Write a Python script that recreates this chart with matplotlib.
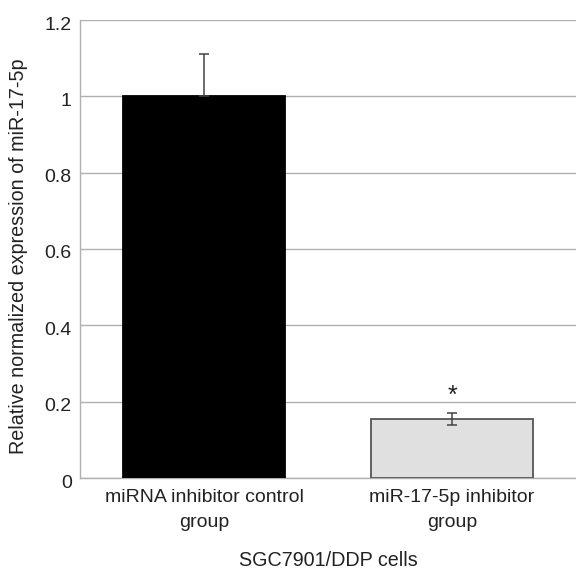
import matplotlib.pyplot as plt
from matplotlib.transforms import ScaledTranslation

plt.rcParams["font.family"] = ["Liberation Sans", "DejaVu Sans"]

groups = ["miRNA inhibitor control\ngroup", "miR-17-5p inhibitor\ngroup"]
values = [1.0, 0.155]
err_low = [0.0, 0.015]
err_high = [0.11, 0.015]
colors = ["#000000", "#e0e0e0"]
yticks = [0, 0.2, 0.4, 0.6, 0.8, 1.0, 1.2]
ytick_labels = ["0", "0.2", "0.4", "0.6", "0.8", "1", "1.2"]

TEXT = "#222222"
GRID = "#b0b0b0"


def main():
    fig = plt.figure(figsize=(5.76, 5.71), dpi=100)
    ax = fig.add_axes([80 / 576, 1 - 478 / 571, 1 - 80 / 576, 458 / 571])

    xs = range(len(values))
    ax.bar(xs, values, width=0.65, color=colors, edgecolor=["#000000", "#555555"],
           linewidth=1.3, zorder=3)
    ax.errorbar(xs, values, yerr=[err_low, err_high], fmt="none", ecolor="#444444",
                elinewidth=1.1, capsize=3.6, capthick=1.1, zorder=4)
    ax.text(1, 0.196, "*", ha="center", va="baseline", fontsize=18, color=TEXT)

    ax.set_xlim(-0.5, 1.5)
    ax.set_ylim(0, 1.2)
    ax.set_yticks(yticks)
    ax.set_yticklabels(ytick_labels)
    ax.set_xticks(list(xs))
    ax.set_xticklabels(groups, linespacing=1.6)
    ax.yaxis.grid(True, color=GRID, linewidth=1.0, zorder=0)
    ax.tick_params(axis="both", length=0, labelsize=14, colors=TEXT)
    ax.tick_params(axis="x", pad=8)
    ax.tick_params(axis="y", pad=6)

    # excel draws the value labels a touch below the gridlines
    shift = ScaledTranslation(0, -3 / 100, fig.dpi_scale_trans)
    for lab in ax.get_yticklabels():
        lab.set_transform(lab.get_transform() + shift)

    for side in ["top", "right"]:
        ax.spines[side].set_visible(False)
    for side in ["left", "bottom"]:
        ax.spines[side].set_color(GRID)
        ax.spines[side].set_linewidth(1.0)

    fig.text(19 / 576, 1 - 256 / 571, "Relative normalized expression of miR-17-5p",
             rotation=90, ha="center", va="center", fontsize=14.2, color=TEXT)
    fig.text(328 / 576, 1 - 566 / 571, "SGC7901/DDP cells", ha="center",
             va="baseline", fontsize=14.2, color=TEXT)

    fig.savefig("out.png", dpi=100)


if __name__ == "__main__":
    main()
